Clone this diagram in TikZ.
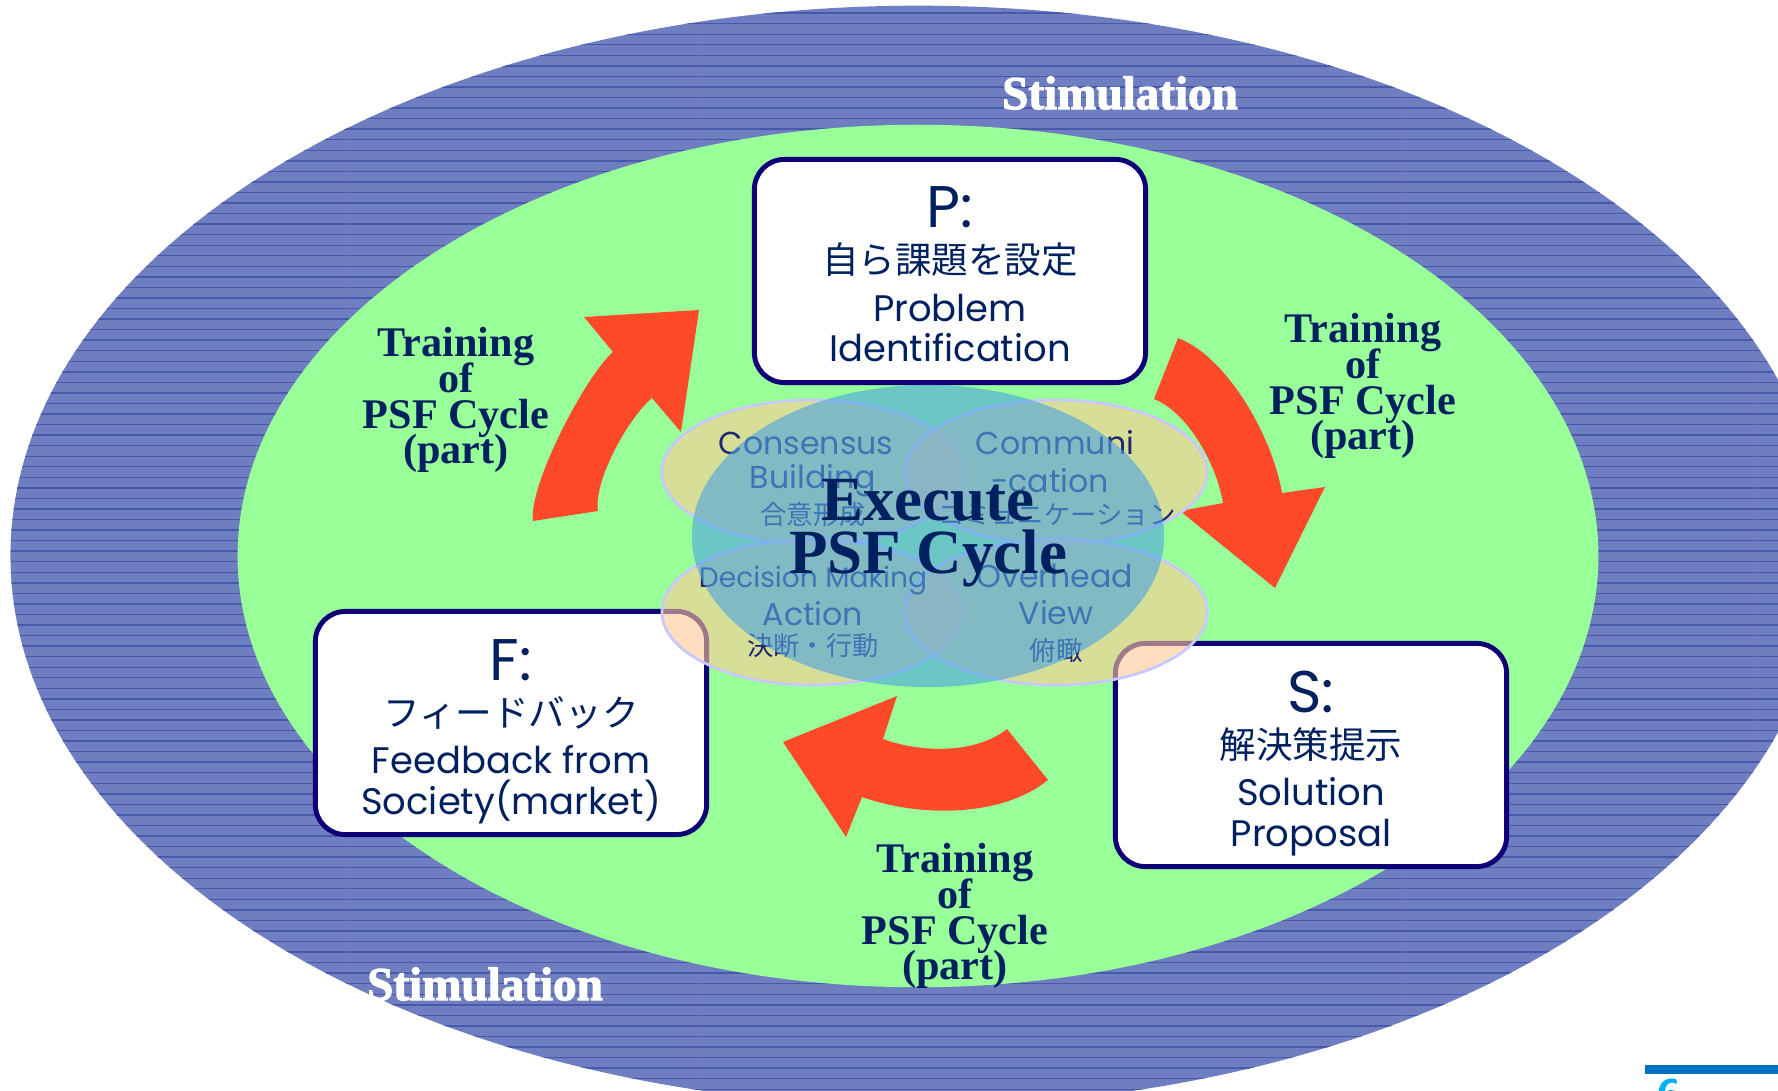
\documentclass[tikz,border=0pt]{standalone}
\usepackage{fontspec}
\setmainfont{Liberation Serif}
\newfontfamily\roundfont{Poppins}
\newfontfamily\jpfont{Noto Sans CJK JP}
\newfontfamily\stimfont[FakeBold=2.5]{Liberation Serif Bold}
\newcommand\tightlines{\lineskiplimit-20pt\relax}
\usetikzlibrary{patterns}
\definecolor{outerblue}{RGB}{110,126,192}
\definecolor{lineblue}{RGB}{72,88,170}
\definecolor{fieldgreen}{RGB}{153,255,153}
\definecolor{arrowred}{RGB}{255,74,42}
\definecolor{navytext}{RGB}{0,32,96}
\definecolor{boxline}{RGB}{16,0,120}
\definecolor{petalfill}{RGB}{255,200,150}
\definecolor{petalline}{RGB}{200,200,255}
\definecolor{petalink}{RGB}{30,40,110}
\definecolor{coreblue}{RGB}{80,165,225}
\definecolor{pagebar}{RGB}{0,112,192}
\definecolor{pagenum}{RGB}{0,176,240}
\begin{document}
\begin{tikzpicture}[x=0.01cm,y=-0.01cm,
stagebox/.style={draw=boxline,line width=1.4pt,fill=white,rounded corners=8.5pt,minimum width=3.91cm,minimum height=2.23cm,inner sep=0pt},
stagehead/.style={font=\roundfont\fontsize{16.7}{18}\selectfont,text=navytext,anchor=base,inner sep=0pt},
stageline/.style={font=\roundfont\fontsize{10.5}{12}\selectfont,text=navytext,anchor=base,inner sep=0pt},
stagejp/.style={font=\jpfont\fontsize{10.4}{12}\selectfont,text=navytext,anchor=base,inner sep=0pt},
training/.style={font=\bfseries\fontsize{12}{10.2}\selectfont\tightlines,text=navytext,align=center,inner sep=0pt},
stimulus/.style={font=\stimfont\fontsize{13.4}{14}\selectfont,text=white,inner sep=0pt},
petal/.style={fill=petalfill,fill opacity=0.6,draw=petalline,line width=0.8pt},
petaltext/.style={font=\roundfont\fontsize{9}{10}\selectfont,text=petalink,inner sep=0pt},
petaljp/.style={font=\jpfont\fontsize{7.5}{9}\selectfont,text=petalink,inner sep=0pt},
flow/.style={fill=arrowred}]
\useasboundingbox (0,0) rectangle (1778,1091);
% outer ring and field
\fill[outerblue] (918,556) ellipse [x radius=9.07cm,y radius=5.5cm];
\fill[pattern=horizontal lines,pattern color=lineblue] (918,556) ellipse [x radius=9.07cm,y radius=5.5cm];
\fill[fieldgreen] (918,556) ellipse [x radius=6.8cm,y radius=4.31cm];
\node[stimulus] (stimtop) at (1120,93) {Stimulation};
\node[stimulus] (stimbot) at (485,984) {Stimulation};

% the three stages
\foreach \nm/\x/\y/\hd/\jp/\la/\lb in {P/950/271/P:/自ら課題を設定/Problem/Identification,
  S/1311/755/S:/解決策提示/Solution/Proposal,
  F/511/723/F:/フィードバック/Feedback from/Society(market)}{
  \node[stagebox] (\nm) at (\x,\y) {};
  \node[stagehead] (\nm-hd) at (\x,\y-43) {\hd};
  \node[stagejp] (\nm-jp) at (\x,\y+3) {\jp};
  \node[stageline] (\nm-la) at (\x,\y+50) {\la};
  \node[stageline] (\nm-lb) at (\x,\y+91) {\lb};
}

% cycle arrows
\fill[flow] (533,521) .. controls (528,486) and (586,375) .. (613,352) -- (584,317) -- (699,310) -- (681,432) -- (652,398) .. controls (629,417) and (593,481) .. (598,511) -- cycle;
\fill[flow] (1178,338) .. controls (1229,358) and (1273,439) .. (1282,493) -- (1325,487) -- (1275,588) -- (1180,511) -- (1223,503) .. controls (1217,466) and (1189,413) .. (1154,399) -- cycle;
\fill[flow] (1048,780) .. controls (1001,818) and (918,817) .. (862,797) -- (846,837) -- (783,742) -- (897,696) -- (883,739) .. controls (921,753) and (976,754) .. (1007,729) -- cycle;
\node[training] (trainFP) at (456,400) {Training\\of\\PSF Cycle\\(part)};
\node[training] (trainPS) at (1363,386) {Training\\of\\PSF Cycle\\(part)};
\node[training] (trainSF) at (955,916) {Training\\of\\PSF Cycle\\(part)};

% four petals under the core
\draw[petal] (812,472) ellipse [x radius=1.5cm,y radius=0.72cm];
\draw[petal] (1056,472) ellipse [x radius=1.51cm,y radius=0.72cm];
\draw[petal] (812,612) ellipse [x radius=1.5cm,y radius=0.73cm];
\draw[petal] (1056,612) ellipse [x radius=1.51cm,y radius=0.73cm];
\node[petaltext] (cons) at (806,443) {Consensus};
\node[petaltext] (build) at (813,481) {Building};
\node[petaljp] (consjp) at (813,515) {合意形成};
\node[petaltext] (comm) at (1055,443) {Communi};
\node[petaltext] (cat) at (1050,481) {-cation};
\node[petaljp] (commjp) at (1057,515) {コミュニケーション};
\node[petaltext,font=\roundfont\fontsize{8}{10}\selectfont] (dec) at (813,581) {Decision Making};
\node[petaltext] (act) at (813,614) {Action};
\node[petaljp] (decjp) at (813,646) {決断・行動};
\node[petaltext] (over) at (1055,576) {Overhead};
\node[petaltext] (view) at (1056,613) {View};
\node[petaljp] (overjp) at (1056,651) {俯瞰};
\fill[coreblue,opacity=0.62] (928,536) ellipse [x radius=2.36cm,y radius=1.51cm];
\node[font=\bfseries\fontsize{17.9}{15.1}\selectfont\tightlines,text=navytext,align=center,inner sep=0pt] (core) at (928,533) {Execute\\PSF Cycle};

% page number
\fill[pagebar] (1645,1065) rectangle (1778,1074);
\node[font=\sffamily\bfseries\fontsize{13.7}{14}\selectfont,text=pagenum,anchor=north,inner sep=0pt] (pgno) at (1670,1078) {6};
\end{tikzpicture}
\end{document}
